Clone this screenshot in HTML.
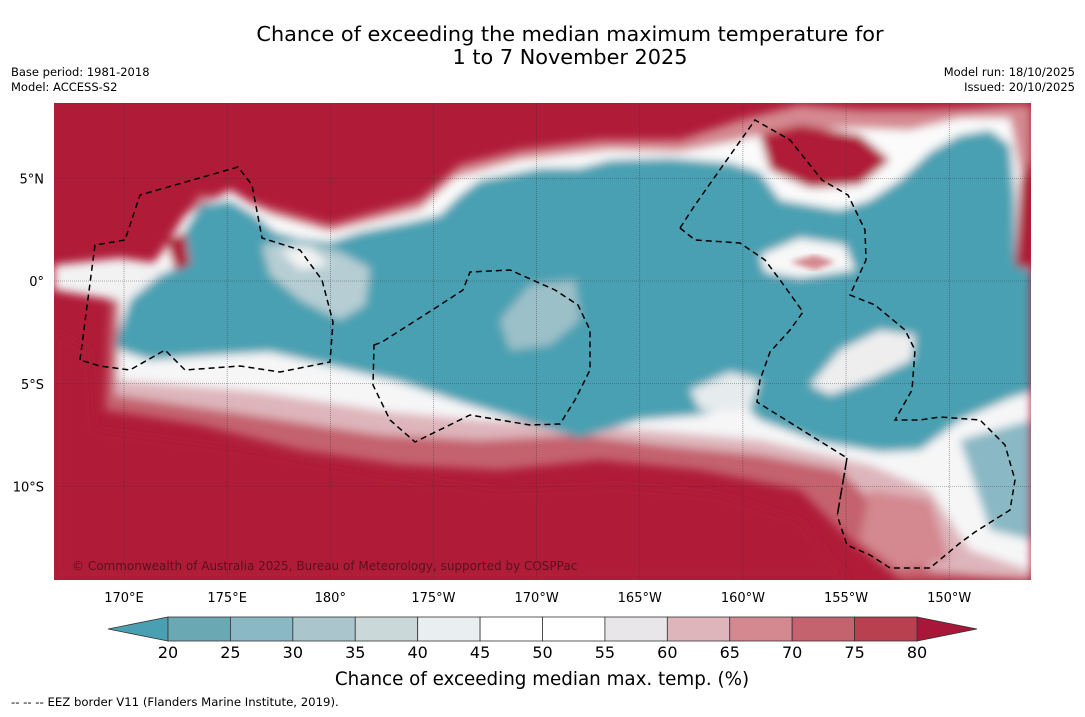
<!DOCTYPE html>
<html><head><meta charset="utf-8"><style>
body{margin:0;background:#fff;width:1085px;height:713px;overflow:hidden;font-family:"DejaVu Sans","Liberation Sans",sans-serif}
</style></head><body>
<svg id="chart" width="1085" height="713" xmlns="http://www.w3.org/2000/svg" font-family="DejaVu Sans, Liberation Sans, sans-serif">
<defs>
<filter id="bl" x="-10%" y="-10%" width="120%" height="120%"><feGaussianBlur stdDeviation="4.5"/></filter>
<filter id="bl2"><feGaussianBlur stdDeviation="3"/></filter>
<clipPath id="mapclip"><rect x="54" y="103" width="977" height="477"/></clipPath>
</defs>
<text x="570" y="41" font-size="20.8" text-anchor="middle">Chance of exceeding the median maximum temperature for</text>
<text x="570" y="64" font-size="20.8" text-anchor="middle">1 to 7 November 2025</text>
<text x="11" y="76" font-size="11.5">Base period: 1981-2018</text>
<text x="11" y="91" font-size="11.5">Model: ACCESS-S2</text>
<text x="1075" y="76" font-size="11.5" text-anchor="end">Model run: 18/10/2025</text>
<text x="1075" y="91" font-size="11.5" text-anchor="end">Issued: 20/10/2025</text>

<g id="map" clip-path="url(#mapclip)">
<rect x="54" y="103" width="977" height="477" fill="#b01c38"/>
<g filter="url(#bl)">
<path d="M54,290 L110,300 L105,410 L200,425 L300,450 L400,465 L500,470 L600,460 L700,470 L800,490 L850,540 L900,580 L1031,580 L1031,380 Z" fill="#c4626e"/>
<path d="M80,290 L120,300 L115,395 L250,415 L380,435 L480,440 L580,435 L660,445 L760,455 L840,470 L880,510 L930,570 L1031,580 L1031,380 Z" fill="#deb5bb"/>
<path d="M54,270 L120,280 L118,380 L260,392 L390,412 L480,420 L580,425 L670,432 L760,440 L870,465 L930,490 L970,550 L1031,570 L1031,380 Z" fill="#f6f6f7"/>
<path d="M870,490 L930,500 L950,560 L900,570 L860,540 Z" fill="#d48890"/>
<path d="M960,440 L1031,420 L1031,540 L990,530 Z" fill="#8ab8c4"/>
<path d="M130,300 L170,240 L200,195 L260,205 L330,225 L420,200 L460,165 L520,150 L600,140 L680,140 L740,120 L800,105 L860,110 L920,110 L970,108 L1010,105 L1031,105 L1031,300 L54,300 Z" fill="#d48890"/>
<path d="M120,300 L160,255 L185,215 L230,190 L270,215 L330,232 L420,210 L455,178 L520,160 L610,150 L680,152 L740,140 L780,130 L850,128 L910,130 L960,118 L1010,118 L1031,230 L1031,300 Z" fill="#fbfbfb"/>
<path d="M54,265 L120,258 L170,265 L160,300 L120,300 L54,290 Z" fill="#f2f2f3"/>
<path d="M115,345 L130,300 L160,275 L190,262 L185,230 L200,205 L230,200 L255,215 L275,232 L300,238 L330,242 L360,232 L410,222 L440,215 L460,195 L480,180 L540,168 L580,168 L610,160 L670,158 L730,163 L760,172 L780,200 L840,210 L870,200 L900,180 L930,152 L960,135 L990,130 L1010,145 L1015,200 L1015,262 L1031,272 L1031,392 L1010,398 L960,420 L920,450 L880,452 L820,442 L760,420 L740,402 L700,415 L640,420 L580,438 L520,420 L460,402 L400,382 L340,368 L270,352 L200,356 L150,360 L125,352 Z" fill="#4aa0b2"/>
<path d="M262,245 L300,240 L340,252 L370,268 L365,305 L340,320 L300,300 L270,275 Z" fill="#b6ced3"/>
<path d="M280,250 L310,248 L330,265 L300,270 Z" fill="#f4f4f4"/>
<path d="M500,320 L530,285 L575,280 L580,320 L550,345 L510,350 Z" fill="#9cc0c8"/>
<path d="M760,255 L800,238 L845,245 L855,270 L800,278 L765,272 Z" fill="#f8f8f8"/>
<path d="M810,385 L840,350 L880,330 L915,335 L912,360 L870,380 L830,395 Z" fill="#eeeeef"/>
<path d="M690,390 L730,372 L760,380 L750,410 L700,410 Z" fill="#e6ebed"/>
<path d="M760,135 L800,125 L860,135 L890,160 L860,185 L810,188 L770,170 Z" fill="#b01c38"/>
<path d="M1020,180 L1031,160 L1031,270 L1015,265 Z" fill="#b01c38"/>
<path d="M165,240 L185,232 L190,265 L175,270 Z" fill="#b01c38"/>
<path d="M54,330 L90,350 L95,430 L250,450 L380,475 L500,490 L620,485 L720,495 L800,520 L850,580 L54,580 Z" fill="#b01c38"/>
</g>
<path d="M790,262 L815,255 L835,262 L815,270 Z" fill="#d48890" filter="url(#bl2)"/>
<g id="grid" stroke="#333" stroke-width="0.6" stroke-dasharray="1,1" opacity="0.7"></g>
<g fill="none" stroke="#000" stroke-width="1.5" stroke-dasharray="6,4">
<path d="M80,360 L95,245 L125,240 L140,195 L238,167 L252,185 L262,238 L300,250 L322,280 L333,322 L330,362 L280,372 L240,366 L185,370 L165,350 L130,370 L100,366 Z"/>
<path d="M374,345 L382,342 L440,305 L463,290 L470,272 L510,270 L555,290 L578,305 L590,330 L590,370 L575,400 L560,424 L530,425 L470,415 L415,442 L390,420 L373,385 Z"/>
<path d="M680,228 L695,205 L755,120 L790,140 L822,180 L848,195 L865,230 L866,260 L850,295 L875,305 L905,330 L915,350 L912,390 L895,420 L920,420 L940,417 L980,420 L1005,445 L1015,480 L1010,510 L975,532 L960,543 L930,568 L890,568 L870,555 L847,545 L837,515"/>
<path d="M680,228 L695,240 L740,243 L765,260 L780,280 L803,312 L790,330 L770,352 L760,380 L757,402 L847,458"/>
<path d="M847,458 L837,517" stroke-dasharray="12,3"/>
</g>
<text x="72" y="570" font-size="12" fill="#5a1020">© Commonwealth of Australia 2025, Bureau of Meteorology, supported by COSPPac</text>
</g>
<g id="axes" font-size="13"></g>
<g id="colorbar"></g>
<text x="542" y="685" font-size="18.3" text-anchor="middle">Chance of exceeding median max. temp. (%)</text>
<text x="11" y="706" font-size="11.7">--  --  -- EEZ border V11 (Flanders Marine Institute, 2019).</text>
</svg>
<script>
const lonLabels=["170°E","175°E","180°","175°W","170°W","165°W","160°W","155°W","150°W"];
const lonValues=[170,175,180,185,190,195,200,205,210];
const latLabels=["5°N","0°","5°S","10°S"];
const latValues=[5,0,-5,-10];
const cbLevels=[20,25,30,35,40,45,50,55,60,65,70,75,80];
const cbColors=["#6aa8b4","#8ab8c4","#aac6cc","#cbd8da","#e9eff1","#ffffff","#ffffff","#e8e6e8","#deb5bb","#d48890","#c4626e","#b8404f"];
const NS="http://www.w3.org/2000/svg";
const xLon=l=>124+(l-170)*20.63;
const yLat=v=>281-v*20.55;
const grid=document.getElementById('grid'),axes=document.getElementById('axes'),cb=document.getElementById('colorbar');
function mk(tag,attrs,parent){const e=document.createElementNS(NS,tag);for(const k in attrs)e.setAttribute(k,attrs[k]);parent.appendChild(e);return e;}
lonValues.forEach((v,i)=>{
 const x=xLon(v);
 const g=mk('line',{x1:x,x2:x,y1:103,y2:580},grid);
 
 
 const t=mk('text',{x:x,y:602,'text-anchor':'middle'},axes);t.textContent=lonLabels[i];
 
 
});
latValues.forEach((v,i)=>{
 const y=yLat(v);
 const g=mk('line',{x1:54,x2:1031,y1:y,y2:y},grid);
 
 
 const t=mk('text',{x:44,y:y+5,'text-anchor':'end'},axes);t.textContent=latLabels[i];
 
 
});
const cx=v=>168+(v-20)*(917-168)/60;
const a1=mk('polygon',{points:`108,629 ${cx(20)},617 ${cx(20)},641`,fill:'#4aa0b2',stroke:'#333','stroke-width':0.8},cb);


const a2=mk('polygon',{points:`${cx(80)},617 977,629 ${cx(80)},641`,fill:'#a8173a',stroke:'#333','stroke-width':0.8},cb);


cbColors.forEach((c,i)=>{
 const r=mk('rect',{x:cx(cbLevels[i]),y:617,width:cx(cbLevels[i+1])-cx(cbLevels[i]),height:24,fill:c,stroke:'#333','stroke-width':0.8},cb);
 
 
});
cbLevels.forEach(v=>{
 const t=mk('text',{x:cx(v),y:658,'text-anchor':'middle','font-size':16},cb);t.textContent=v;
 
 
});
</script>
</body></html>
